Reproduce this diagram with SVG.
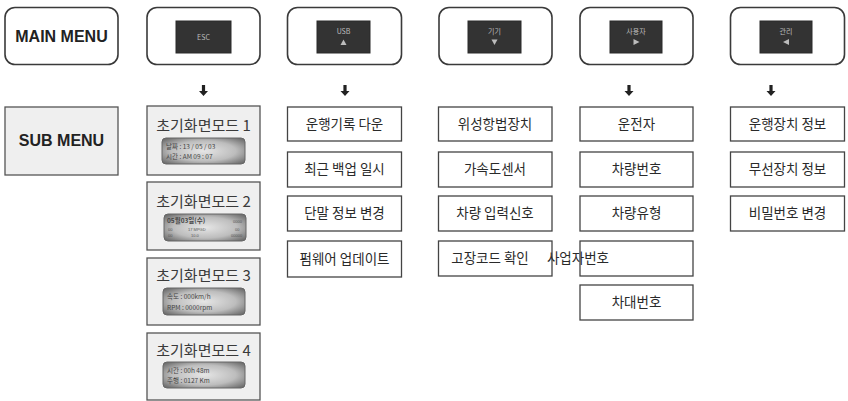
<svg xmlns="http://www.w3.org/2000/svg" width="848" height="401" viewBox="0 0 848 401">
<style>
.main{fill:#fff;stroke:#3a3a3a;stroke-width:1.6}
.key{fill:#333;stroke:#2a2a2a;stroke-width:1}
.keyt{font-family:"Noto Sans CJK KR","Liberation Sans",sans-serif;font-size:7px;fill:#bdbdbd;text-anchor:middle}
.tri{fill:#bdbdbd}
.big{font-family:"Liberation Sans",Arial,sans-serif;font-weight:bold;font-size:16px;fill:#222;text-anchor:middle}
.sub{fill:#fff;stroke:#444;stroke-width:1.3}
.subg{fill:#efefef;stroke:#555;stroke-width:1.3}
.t{font-family:"Noto Sans CJK KR","Noto Sans",sans-serif;font-size:13.5px;fill:#2a2a2a;text-anchor:middle}
.tt{font-family:"Noto Sans CJK KR","Noto Sans",sans-serif;font-size:15px;fill:#3a3a3a;text-anchor:middle}
.lcd{fill:url(#lg);stroke:#666;stroke-width:1}
.lt{font-family:"Noto Sans CJK KR","Liberation Sans",sans-serif;font-size:6.5px;fill:#444}
.ls{font-family:"Liberation Sans",sans-serif;font-size:4px;fill:#555}
.arr{fill:#222}
</style>
<defs>
<radialGradient id="lg" cx="50%" cy="50%" r="65%">
<stop offset="0" stop-color="#e6e6e6"/>
<stop offset="0.6" stop-color="#bdbdbd"/>
<stop offset="1" stop-color="#6e6e6e"/>
</radialGradient>
<path id="dn" d="M-1.6,0 H1.6 V6 H4.5 L0,11 L-4.5,6 H-1.6 Z"/>
</defs>

<g id="main-menu">
<rect class="main" x="5" y="7.5" width="113" height="57" rx="10"/>
<text class="big" x="61.5" y="42">MAIN MENU</text>
</g>
<g id="sub-menu">
<rect class="subg" x="5" y="107" width="113" height="68"/>
<text class="big" x="61.5" y="146">SUB MENU</text>
</g>

<g id="key-esc">
<rect class="main" x="147" y="7.5" width="113" height="57" rx="10"/>
<rect class="key" x="176" y="21" width="55" height="32"/>
<text class="keyt" x="203.5" y="40">ESC</text>
</g>
<g id="key-usb">
<rect class="main" x="287.5" y="7.5" width="114" height="57" rx="10"/>
<rect class="key" x="317" y="21" width="53" height="32"/>
<text class="keyt" x="343.5" y="34">USB</text>
<path class="tri" d="M343.5,39.5 L346.5,45 L340.5,45 Z"/>
</g>
<g id="key-device">
<rect class="main" x="439" y="7.5" width="113" height="57" rx="10"/>
<rect class="key" x="468" y="21" width="53" height="32"/>
<text class="keyt" x="494.5" y="34">기기</text>
<path class="tri" d="M494.5,45 L497.5,39.5 L491.5,39.5 Z"/>
</g>
<g id="key-user">
<rect class="main" x="580" y="7.5" width="113" height="57" rx="10"/>
<rect class="key" x="610" y="21" width="52" height="32"/>
<text class="keyt" x="636" y="34">사용자</text>
<path class="tri" d="M639.5,42 L633.5,39 L633.5,45 Z"/>
</g>
<g id="key-admin">
<rect class="main" x="730.5" y="7.5" width="114" height="57" rx="10"/>
<rect class="key" x="760" y="21" width="52" height="32"/>
<text class="keyt" x="786" y="34">관리</text>
<path class="tri" d="M783,42 L789,39 L789,45 Z"/>
</g>

<g id="connectors">
<use class="arr" href="#dn" x="203.5" y="85"/>
<use class="arr" href="#dn" x="345" y="85"/>
<use class="arr" href="#dn" x="629" y="85"/>
<use class="arr" href="#dn" x="771" y="85"/>
</g>

<g id="esc-mode1">
<rect class="subg" x="147" y="106" width="113" height="69"/>
<text class="tt" x="203.5" y="131">초기화면모드 1</text>
<rect class="lcd" x="162" y="138" width="83" height="26" rx="4"/>
<text class="lt" x="166" y="149">날짜 : 13 / 05 / 03</text>
<text class="lt" x="166" y="159">시간 : AM 09 : 07</text>
</g>
<g id="esc-mode2">
<rect class="subg" x="147" y="182" width="113" height="68"/>
<text class="tt" x="203.5" y="207">초기화면모드 2</text>
<rect class="lcd" x="164" y="214" width="82" height="27" rx="4"/>
<text class="lt" x="167" y="223" font-weight="bold">05월03일(수)</text>
<text class="ls" x="168" y="231">00</text>
<text class="ls" x="188" y="231">17 MPGD</text>
<text class="ls" x="233" y="223">0000</text>
<text class="ls" x="235" y="231">00</text>
<text class="ls" x="168" y="237">00</text>
<text class="ls" x="191" y="237">10.0</text>
<text class="ls" x="231" y="237">00000</text>
</g>
<g id="esc-mode3">
<rect class="subg" x="147" y="258" width="113" height="67"/>
<text class="tt" x="203.5" y="281">초기화면모드 3</text>
<rect class="lcd" x="163" y="288" width="82" height="27" rx="4"/>
<text class="lt" x="167" y="299">속도 : 000km/h</text>
<text class="lt" x="167" y="310">RPM : 0000rpm</text>
</g>
<g id="esc-mode4">
<rect class="subg" x="147" y="333" width="113" height="67"/>
<text class="tt" x="203.5" y="356">초기화면모드 4</text>
<rect class="lcd" x="163" y="362" width="82" height="26" rx="4"/>
<text class="lt" x="167" y="373">시간 : 00h 48m</text>
<text class="lt" x="167" y="383">주행 : 0127 Km</text>
</g>

<g id="usb-1"><rect class="sub" x="287.5" y="107" width="114" height="34"/><text class="t" x="344.5" y="129">운행기록 다운</text></g>
<g id="usb-2"><rect class="sub" x="287.5" y="152" width="114" height="35"/><text class="t" x="344.5" y="174">최근 백업 일시</text></g>
<g id="usb-3"><rect class="sub" x="287.5" y="196" width="114" height="35"/><text class="t" x="344.5" y="218">단말 정보 변경</text></g>
<g id="usb-4"><rect class="sub" x="287.5" y="241" width="114" height="36"/><text class="t" x="344.5" y="264">펌웨어 업데이트</text></g>

<g id="dev-1"><rect class="sub" x="438.5" y="107" width="113.5" height="34"/><text class="t" x="495" y="129">위성항법장치</text></g>
<g id="dev-2"><rect class="sub" x="438.5" y="152" width="113.5" height="35"/><text class="t" x="495" y="174">가속도센서</text></g>
<g id="dev-3"><rect class="sub" x="438.5" y="196" width="113.5" height="35"/><text class="t" x="495" y="218">차량 입력신호</text></g>
<g id="dev-4"><rect class="sub" x="438.5" y="241" width="113.5" height="35"/><text class="t" x="490" y="263">고장코드 확인</text></g>

<g id="user-1"><rect class="sub" x="580" y="107" width="113" height="34"/><text class="t" x="636.5" y="129">운전자</text></g>
<g id="user-2"><rect class="sub" x="580" y="152" width="113" height="35"/><text class="t" x="636.5" y="174">차량번호</text></g>
<g id="user-3"><rect class="sub" x="580" y="196" width="113" height="35"/><text class="t" x="636.5" y="218">차량유형</text></g>
<g id="user-4"><rect class="sub" x="580" y="241" width="113" height="35"/><text class="t" x="578" y="263">사업자번호</text></g>
<g id="user-5"><rect class="sub" x="580" y="285" width="113" height="35"/><text class="t" x="636.5" y="307">차대번호</text></g>

<g id="admin-1"><rect class="sub" x="730.5" y="107" width="114" height="34"/><text class="t" x="787.5" y="129">운행장치 정보</text></g>
<g id="admin-2"><rect class="sub" x="730.5" y="152" width="114" height="35"/><text class="t" x="787.5" y="174">무선장치 정보</text></g>
<g id="admin-3"><rect class="sub" x="730.5" y="196" width="114" height="35"/><text class="t" x="787.5" y="218">비밀번호 변경</text></g>
</svg>
